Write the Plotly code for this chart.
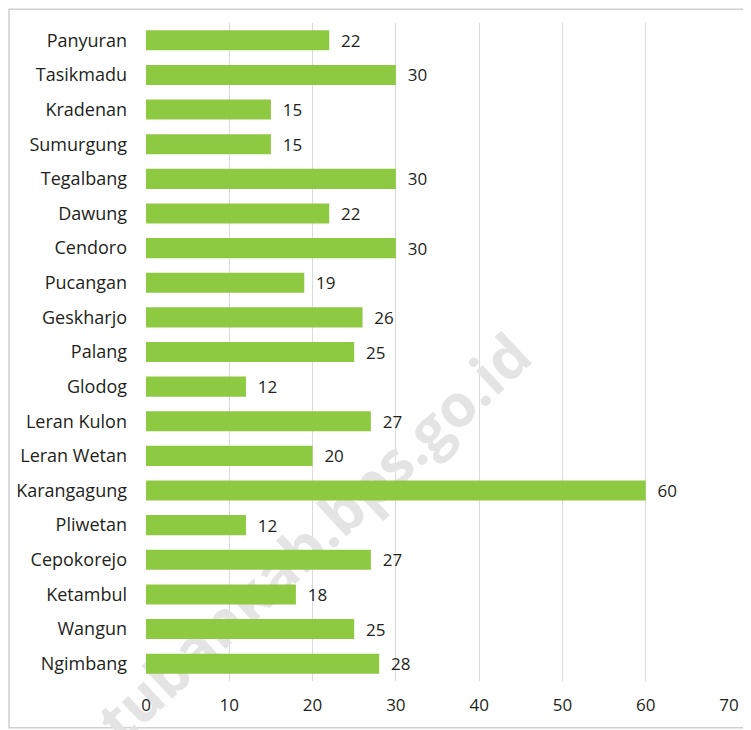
import plotly.graph_objects as go

# data desa (atas ke bawah)
desa = ["Panyuran", "Tasikmadu", "Kradenan", "Sumurgung", "Tegalbang", "Dawung",
        "Cendoro", "Pucangan", "Geskharjo", "Palang", "Glodog", "Leran Kulon",
        "Leran Wetan", "Karangagung", "Pliwetan", "Cepokorejo", "Ketambul",
        "Wangun", "Ngimbang"]
jumlah = [22, 30, 15, 15, 30, 22, 30, 19, 26, 25, 12, 27, 20, 60, 12, 27, 18, 25, 28]
x_ticks = [0, 10, 20, 30, 40, 50, 60, 70]
watermark = "tubankab.bps.go.id"

font_fam = "Open Sans, Noto Sans, sans-serif"
text_col = "#231F20"

fig = go.Figure()

# watermark di belakang batang (subplot dasar)
fig.add_trace(
    go.Bar(
        x=[1.0], y=[0.22], base=[-0.214], width=[1.0],
        orientation="h",
        marker=dict(color="rgba(0,0,0,0)", line=dict(width=0)),
        text=[f"<b>{watermark}</b>"],
        textposition="inside",
        insidetextanchor="middle",
        textangle=-43,
        textfont=dict(family=font_fam, size=59, color="#E4E4E4"),
        cliponaxis=False,
        hoverinfo="skip",
        xaxis="x", yaxis="y",
    )
)

# batang utama
fig.add_trace(
    go.Bar(
        y=desa,
        x=jumlah,
        orientation="h",
        marker=dict(color="#8DC941", line=dict(width=0)),
        width=0.58,
        text=[str(v) for v in jumlah],
        texttemplate="  %{text}",
        textposition="outside",
        constraintext="none",
        textfont=dict(family=font_fam, size=17, color=text_col),
        cliponaxis=False,
        xaxis="x2", yaxis="y2",
    )
)

fig.update_layout(
    width=751,
    height=730,
    margin=dict(l=138, r=30, t=15, b=57),
    paper_bgcolor="white",
    plot_bgcolor="white",
    showlegend=False,
    font=dict(family=font_fam, size=16, color=text_col),
    xaxis=dict(range=[0, 1], visible=False, fixedrange=True),
    yaxis=dict(range=[0, 1], visible=False, fixedrange=True),
    xaxis2=dict(
        overlaying="x",
        side="bottom",
        anchor="y2",
        range=[0, 70],
        tickvals=x_ticks,
        showgrid=True,
        gridcolor="#DADADA",
        gridwidth=1,
        zeroline=False,
        showline=False,
        ticks="",
        automargin=False,
        ticklabelstandoff=12,
        tickfont=dict(size=17, color=text_col),
    ),
    yaxis2=dict(
        overlaying="y",
        side="left",
        anchor="x2",
        categoryorder="array",
        categoryarray=desa[::-1],
        showgrid=False,
        zeroline=False,
        showline=False,
        ticks="",
        automargin=False,
        ticklabelstandoff=18,
        tickfont=dict(size=18, color=text_col),
    ),
    shapes=[
        # bingkai luar
        dict(type="rect", xref="paper", yref="paper",
             x0=-0.235, x1=1.0326, y0=-0.071, y1=1.021,
             line=dict(color="#D0D0D0", width=1.5), layer="below"),
    ],
)

fig.write_html("out.html")
